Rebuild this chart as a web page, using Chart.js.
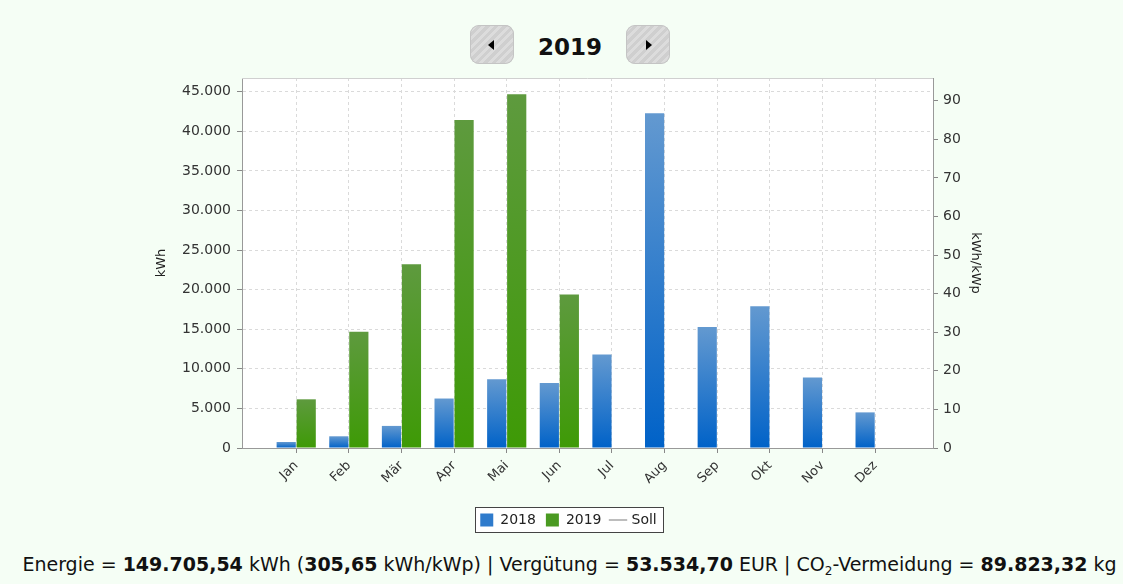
<!DOCTYPE html>
<html lang="de">
<head>
<meta charset="utf-8">
<title>Ertrag 2019</title>
<script src="https://cdn.jsdelivr.net/npm/chart.js@4.4.1/dist/chart.umd.min.js"></script>
<style>
    html, body { margin: 0; padding: 0; }
    body {
        width: 1123px; height: 584px; position: relative; overflow: hidden;
        background: #f5fef5; font-family: "DejaVu Sans", Verdana, sans-serif; color: #111;
    }
    #chart { position: absolute; left: 0; top: 0; }
    .nav-btn {
        position: absolute; top: 25px; width: 44px; height: 39px; border-radius: 9px;
        background: repeating-linear-gradient(135deg, #cfcfcf 0 3px, #dcdcdc 3px 6px);
        box-shadow: inset 0 0 0 1px #c4c4c4;
    }
    .nav-btn::after {
        content: ''; position: absolute; top: 15px; width: 0; height: 0;
        border-top: 5px solid transparent; border-bottom: 5px solid transparent;
    }
    #prev { left: 470px; }
    #prev::after { left: 18px; border-right: 6px solid #000; }
    #next { left: 626px; }
    #next::after { left: 20px; border-left: 6px solid #000; }
    #year {
        position: absolute; left: 520px; width: 100px; top: 32px; text-align: center;
        font-weight: bold; font-size: 23px; line-height: 30px;
    }
    #footer {
        position: absolute; left: 8px; width: 1123px; top: 552px; text-align: center;
        font-size: 19px; line-height: 24px; white-space: nowrap;
    }
    #footer sub { font-size: 12px; vertical-align: -4px; line-height: 0; }
</style>
</head>
<body>
<div class="nav-btn" id="prev"></div>
<div id="year">2019</div>
<div class="nav-btn" id="next"></div>
<canvas id="chart" width="1123" height="545"></canvas>
<div id="footer">Energie = <b>149.705,54</b> kWh (<b>305,65</b> kWh/kWp) | Vergütung = <b>53.534,70</b> EUR | CO<sub>2</sub>-Vermeidung = <b>89.823,32</b> kg</div>

<script>
// Daten
const months = ['Jan', 'Feb', 'Mär', 'Apr', 'Mai', 'Jun', 'Jul', 'Aug', 'Sep', 'Okt', 'Nov', 'Dez'];
const kwh2018 = [760, 1480, 2790, 6250, 8700, 8200, 11800, 42300, 15300, 17900, 8900, 4500];
const kwh2019 = [6150, 14700, 23200, 41450, 44700, 19400, null, null, null, null, null, null];
const soll = [];
const kwhTicks = [0, 5000, 10000, 15000, 20000, 25000, 30000, 35000, 40000, 45000];
const kwpTicks = [0, 10, 20, 30, 40, 50, 60, 70, 80, 90];
const kwhMax = 46740;
const kwpMax = 95.9;

// Hilfsfunktionen
function fmtDE(v) {
    return String(v).replace(/\B(?=(\d{3})+(?!\d))/g, '.');
}

function barGradient(topColor, bottomColor) {
    return (ctx) => {
        const chart = ctx.chart;
        if (!chart.chartArea || !ctx.parsed || ctx.parsed.y == null) return bottomColor;
        const y = chart.scales.y;
        const y0 = y.getPixelForValue(0);
        const y1 = y.getPixelForValue(ctx.parsed.y);
        if (Math.abs(y0 - y1) < 1) return bottomColor;
        const g = chart.ctx.createLinearGradient(0, y1, 0, y0);
        g.addColorStop(0, topColor);
        g.addColorStop(1, bottomColor);
        return g;
    };
}

// Plot-Hintergrund, obere Linie und Rahmen um die Legende
const plotFrame = {
    id: 'plotFrame',
    beforeDraw(chart) {
        const {ctx, chartArea: a} = chart;
        ctx.save();
        ctx.fillStyle = '#ffffff';
        ctx.fillRect(a.left, a.top, a.right - a.left, a.bottom - a.top);
        const box = legendBox(chart);
        if (box) ctx.fillRect(box.x, box.y, box.w, box.h);
        ctx.restore();
    },
    afterDraw(chart) {
        const {ctx, chartArea: a} = chart;
        ctx.save();
        ctx.strokeStyle = '#d0d0d0';
        ctx.lineWidth = 1;
        ctx.beginPath();
        ctx.moveTo(a.left, a.top + 0.5);
        ctx.lineTo(a.right, a.top + 0.5);
        ctx.stroke();
        const box = legendBox(chart);
        if (box) {
            ctx.strokeStyle = '#444';
            ctx.strokeRect(box.x + 0.5, box.y + 0.5, box.w, box.h);
        }
        ctx.restore();
    }
};

function legendBox(chart) {
    const hb = chart.legend && chart.legend.legendHitBoxes;
    if (!hb || !hb.length) return null;
    const left = Math.min(...hb.map(b => b.left));
    const right = Math.max(...hb.map(b => b.left + b.width));
    const top = Math.min(...hb.map(b => b.top));
    const bottom = Math.max(...hb.map(b => b.top + b.height));
    return {x: Math.round(left - 5), y: Math.round(top - 6), w: Math.round(right - left + 12), h: Math.round(bottom - top + 11)};
}

const tickFont = {family: '"DejaVu Sans", sans-serif', size: 13};
const yTickFont = {family: '"DejaVu Sans", sans-serif', size: 14};

new Chart(document.getElementById('chart'), {
    type: 'bar',
    data: {
        datasets: [
            {
                label: '2018',
                data: kwh2018.map((v, i) => ({x: i, y: v})),
                backgroundColor: barGradient('#6399d0', '#0062c8'),
                legendColor: '#2f7bcc',
                categoryPercentage: 0.76,
                barPercentage: 0.96,
                yAxisID: 'y'
            },
            {
                label: '2019',
                data: kwh2019.map((v, i) => ({x: i, y: v})),
                backgroundColor: barGradient('#5e9a3e', '#3e9a06'),
                legendColor: '#4a9a22',
                categoryPercentage: 0.76,
                barPercentage: 0.96,
                yAxisID: 'y'
            },
            {
                type: 'line',
                label: 'Soll',
                data: soll,
                borderColor: '#bdbdbd',
                borderWidth: 2,
                pointRadius: 0,
                yAxisID: 'y1'
            }
        ]
    },
    options: {
        responsive: false,
        animation: false,
        devicePixelRatio: 1,
        layout: {padding: {top: 78, left: 150, right: 136, bottom: 8}},
        plugins: {
            tooltip: {enabled: false},
            legend: {
                position: 'bottom',
                labels: {
                    font: {family: '"DejaVu Sans", sans-serif', size: 14},
                    color: '#222',
                    usePointStyle: true,
                    boxWidth: 13,
                    boxHeight: 13,
                    padding: 10,
                    generateLabels(chart) {
                        return chart.data.datasets.map((ds, i) => ({
                            text: ds.label,
                            datasetIndex: i,
                            fillStyle: ds.legendColor || ds.borderColor,
                            strokeStyle: ds.legendColor || ds.borderColor,
                            lineWidth: ds.type === 'line' ? 2 : 0,
                            pointStyle: ds.type === 'line' ? 'line' : 'rect',
                            fontColor: '#222',
                            hidden: false
                        }));
                    }
                }
            }
        },
        scales: {
            x: {
                type: 'linear',
                offset: false,
                min: -1.03,
                max: 12.1,
                afterBuildTicks: (axis) => { axis.ticks = months.map((m, i) => ({value: i})); },
                afterFit: (axis) => { axis.height = 55; },
                ticks: {
                    callback: (v) => months[v],
                    autoSkip: false,
                    minRotation: 45,
                    maxRotation: 45,
                    padding: 5,
                    font: tickFont,
                    color: '#333'
                },
                grid: {offset: false, color: '#dadada', tickColor: '#888', tickLength: 5, tickBorderDash: []},
                border: {color: '#999', dash: [3, 3]}
            },
            y: {
                position: 'left',
                min: 0,
                max: kwhMax,
                afterBuildTicks: (axis) => { axis.ticks = kwhTicks.map(v => ({value: v})); },
                afterFit: (axis) => { axis.width = 92; },
                ticks: {callback: (v) => fmtDE(v), padding: 6, font: yTickFont, color: '#333'},
                title: {display: true, text: 'kWh', font: tickFont, color: '#222', padding: 4},
                grid: {color: '#dadada', tickColor: '#888', tickLength: 5, tickBorderDash: []},
                border: {color: '#999', dash: [3, 3]}
            },
            y1: {
                position: 'right',
                min: 0,
                max: kwpMax,
                afterBuildTicks: (axis) => { axis.ticks = kwpTicks.map(v => ({value: v})); },
                afterFit: (axis) => { axis.width = 54; },
                ticks: {padding: 5, font: yTickFont, color: '#333'},
                title: {display: true, text: 'kWh/kWp', font: tickFont, color: '#222', padding: 4},
                grid: {drawOnChartArea: false, tickColor: '#888', tickLength: 5},
                border: {color: '#999'}
            }
        }
    },
    plugins: [plotFrame]
});
</script>
</body>
</html>
